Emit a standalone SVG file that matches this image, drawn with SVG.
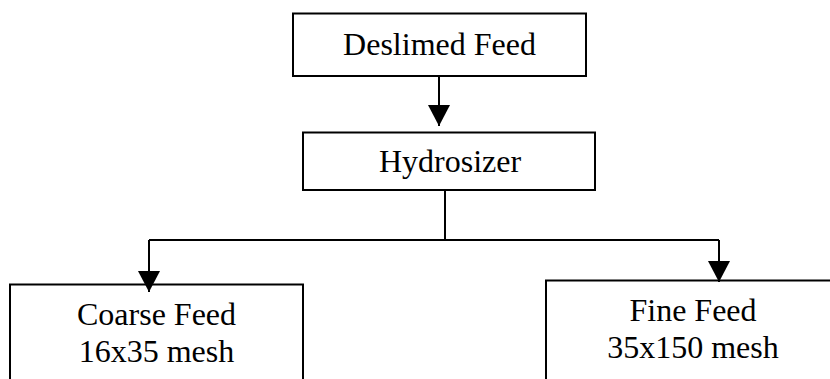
<svg xmlns="http://www.w3.org/2000/svg" width="830" height="379" viewBox="0 0 830 379">
<style>
.box{fill:#fff;stroke:#000;stroke-width:2}
.t{font-family:"Liberation Serif","Times New Roman",serif;font-size:32px;fill:#000;text-anchor:middle}
.c{fill:none;stroke:#000;stroke-width:2}
</style>
<defs>
<marker id="ah" markerUnits="userSpaceOnUse" markerWidth="22" markerHeight="22" viewBox="0 0 22 22" refX="21" refY="11" orient="auto">
<path d="M0,0 L21,11 L0,22 Z" fill="#000"/>
</marker>
</defs>
<rect width="830" height="379" fill="#fff"/>
<g id="deslimed">
<rect class="box" x="293" y="13.5" width="293" height="62.5"/>
<text class="t" x="439.5" y="54.5">Deslimed Feed</text>
</g>
<g id="hydrosizer">
<rect class="box" x="303" y="132.5" width="292" height="57.5"/>
<text class="t" x="450" y="171.5">Hydrosizer</text>
</g>
<g id="coarse">
<rect class="box" x="10" y="284.5" width="293" height="110"/>
<text class="t" x="156.5" y="325">Coarse Feed</text>
<text class="t" x="156.5" y="362">16x35 mesh</text>
</g>
<g id="fine">
<rect class="box" x="546" y="280.5" width="300" height="110"/>
<text class="t" x="693" y="321">Fine Feed</text>
<text class="t" x="693" y="357.5">35x150 mesh</text>
</g>
<g id="connectors">
<path class="c" d="M439,77 L439,126" marker-end="url(#ah)"/>
<path class="c" d="M445,191 L445,240"/>
<path class="c" d="M149,240 L719,240"/>
<path class="c" d="M149,240 L149,292" marker-end="url(#ah)"/>
<path class="c" d="M719,240 L719,282" marker-end="url(#ah)"/>
</g>
</svg>
